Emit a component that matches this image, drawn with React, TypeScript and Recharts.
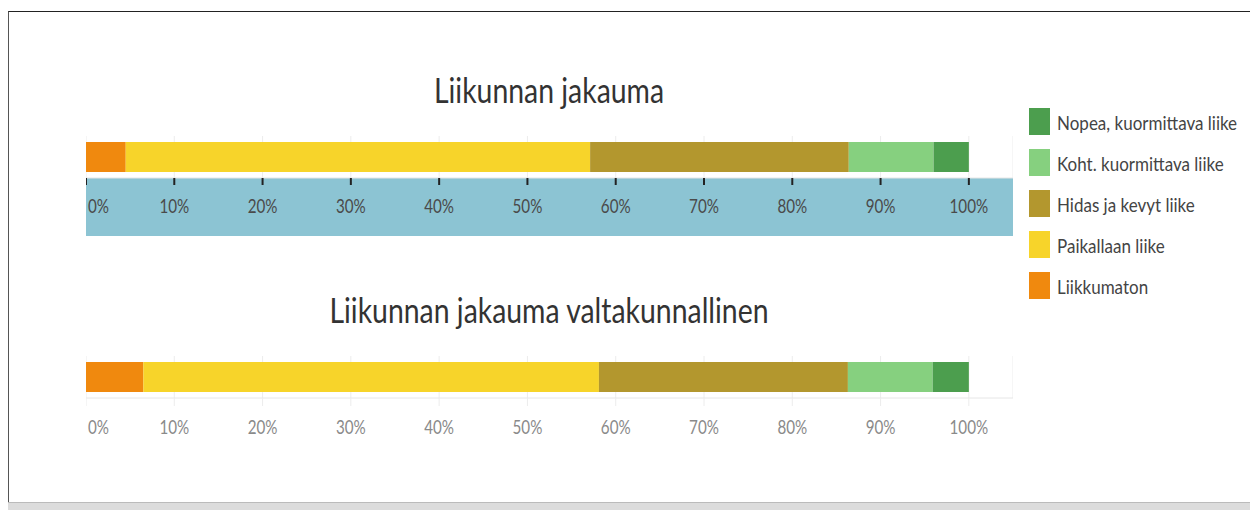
import React from 'react';
import { BarChart, Bar, XAxis, YAxis, CartesianGrid } from 'recharts';

const seriesNames = ['Liikkumaton', 'Paikallaan liike', 'Hidas ja kevyt liike', 'Koht. kuormittava liike', 'Nopea, kuormittava liike'];
const seriesKeys = ['s0', 's1', 's2', 's3', 's4'];
const seriesColors = ['#F0890E', '#F7D42A', '#B3972E', '#86D07F', '#4C9E4E'];
const localValues = [4.5, 52.6, 29.3, 9.6, 4.0];
const nationalValues = [6.5, 51.6, 28.2, 9.6, 4.1];
const tickValues = [0, 10, 20, 30, 40, 50, 60, 70, 80, 90, 100];
const titleLocal = 'Liikunnan jakauma';
const titleNational = 'Liikunnan jakauma valtakunnallinen';

const FONT = 'Lato, "Open Sans", sans-serif';
const SX = 0.8;
const SX_TITLE = 0.835;
const SX_LEGEND = 0.85;

function buildRow(name: string, values: number[]) {
  const row: Record<string, any> = { name };
  seriesKeys.forEach((k, i) => { row[k] = values[i]; });
  return [row];
}

const makeTick = (fill: string, dy: number) => (props: any) => {
  const { x, y, payload } = props;
  const v = payload.value;
  const isZero = v === 0;
  return (
    <g transform={`translate(${isZero ? x + 2 : x},${y + dy}) scale(${SX},1)`}>
      <text x={0} y={0} textAnchor={isZero ? 'start' : 'middle'} fill={fill} fontSize={19} fontFamily={FONT}>
        {`${v}%`}
      </text>
    </g>
  );
};

const TopTick = makeTick('#4a4a4a', 26);
const BottomTick = makeTick('#8a8a8a', 26);

function Bars() {
  return seriesKeys.map((k, i) => (
    <Bar key={k} dataKey={k} name={seriesNames[i]} stackId="a" fill={seriesColors[i]} barSize={30} isAnimationActive={false} />
  ));
}

export default function App() {
  const localData = buildRow(titleLocal, localValues);
  const nationalData = buildRow(titleNational, nationalValues);
  const legendItems = seriesNames.map((n, i) => ({ n, c: seriesColors[i] })).reverse();
  return (
    <div style={{ position: 'relative', width: 1250, height: 502, fontFamily: FONT }}>
      <div style={{ position: 'absolute', left: 0, top: 3, width: 1250, height: 490, borderTop: '1px solid #222', borderLeft: '1px solid #555' }} />
      <div style={{ position: 'absolute', left: 0, top: 494, width: 1250, height: 8, background: '#dcdcdc', borderTop: '1px solid #bbb' }} />

      <div style={{ position: 'absolute', left: 0, top: 62, width: 1082, textAlign: 'center', fontSize: 34, color: '#333', lineHeight: '40px', transform: `scaleX(${SX_TITLE})`, transformOrigin: '541px 0' }}>
        {titleLocal}
      </div>
      <div style={{ position: 'absolute', left: 0, top: 282, width: 1082, textAlign: 'center', fontSize: 34, color: '#333', lineHeight: '40px', transform: `scaleX(${SX_TITLE})`, transformOrigin: '541px 0' }}>
        {titleNational}
      </div>

      <div style={{ position: 'absolute', left: 78, top: 170, width: 927, height: 58, background: '#8CC4D3' }} />

      <div style={{ position: 'absolute', left: 78, top: 128 }}>
        <BarChart width={927} height={100} data={localData} layout="vertical" margin={{ top: 0, right: 0, bottom: 0, left: 0 }}>
          <CartesianGrid horizontal={false} stroke="#ececec" />
          <XAxis type="number" domain={[0, 105]} ticks={tickValues} allowDataOverflow height={58}
            axisLine={{ stroke: '#e6e6e6' }} tickLine={{ stroke: '#222', strokeWidth: 2 }} tickSize={7} tick={TopTick} interval={0} />
          <YAxis type="category" dataKey="name" hide />
          {Bars()}
        </BarChart>
      </div>

      <div style={{ position: 'absolute', left: 78, top: 348 }}>
        <BarChart width={927} height={92} data={nationalData} layout="vertical" margin={{ top: 0, right: 0, bottom: 0, left: 0 }}>
          <CartesianGrid horizontal={false} stroke="#ececec" />
          <XAxis type="number" domain={[0, 105]} ticks={tickValues} allowDataOverflow height={50}
            axisLine={{ stroke: '#e6e6e6' }} tickLine={{ stroke: '#ececec' }} tickSize={8} tick={BottomTick} interval={0} />
          <YAxis type="category" dataKey="name" hide />
          {Bars()}
        </BarChart>
      </div>

      <div style={{ position: 'absolute', left: 1021, top: 93 }}>
        {legendItems.map((it) => (
          <div key={it.n} style={{ display: 'flex', alignItems: 'center', height: 41 }}>
            <div style={{ width: 21, height: 27, background: it.c, flex: 'none' }} />
            <div style={{ marginLeft: 7, fontSize: 20, color: '#444', whiteSpace: 'nowrap', transform: `scaleX(${SX_LEGEND})`, transformOrigin: '0 50%' }}>{it.n}</div>
          </div>
        ))}
      </div>
    </div>
  );
}
